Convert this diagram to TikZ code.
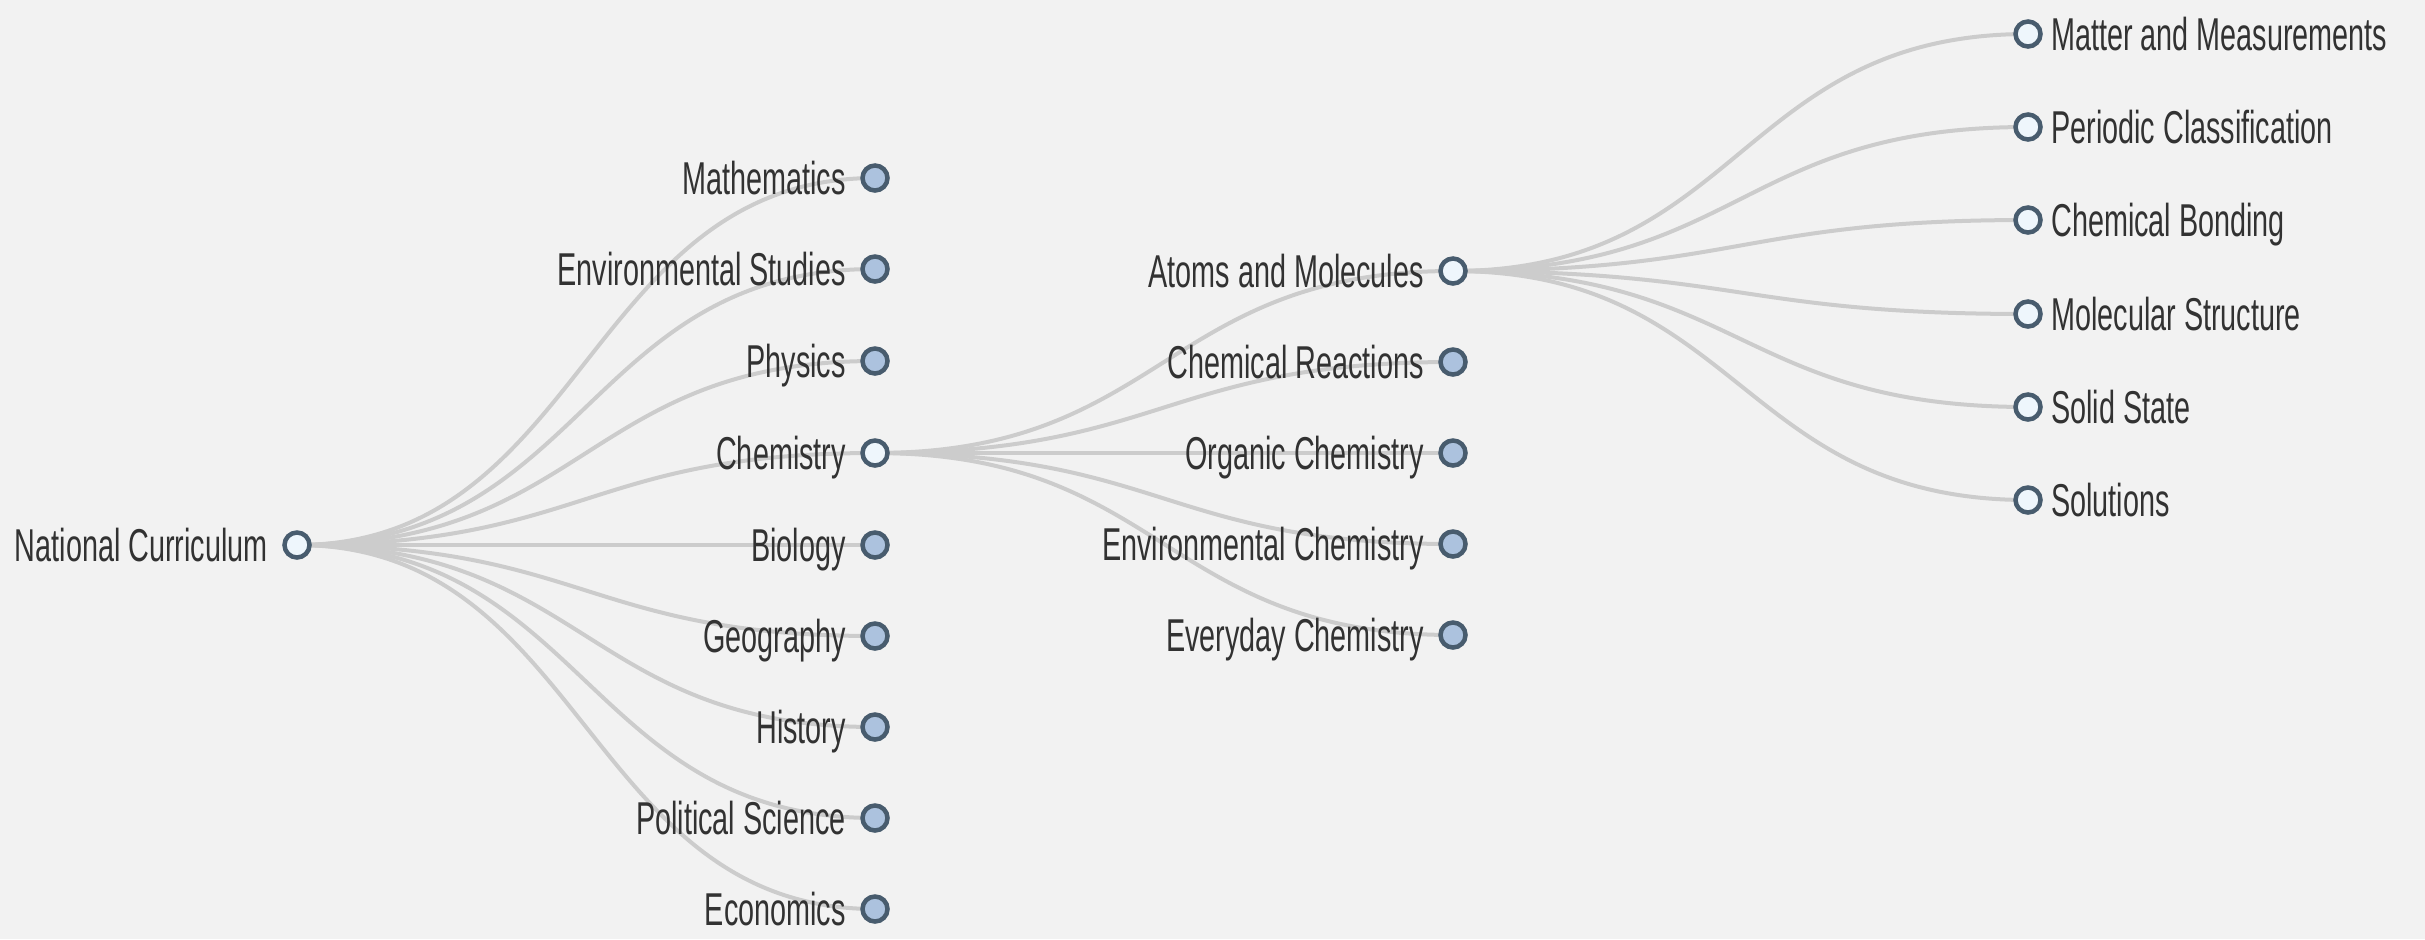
\documentclass[tikz,border=0pt]{standalone}
\usepackage{fontspec}
\newfontfamily\treefont[FakeStretch=0.625]{Liberation Sans}
\usetikzlibrary{backgrounds}
\definecolor{bgcol}{RGB}{242,242,242}
\definecolor{linkcol}{RGB}{204,204,204}
\definecolor{ringcol}{RGB}{72,92,110}
\definecolor{shutcol}{RGB}{172,194,222}
\definecolor{opencol}{RGB}{238,246,252}
\definecolor{txtcol}{RGB}{50,50,50}
\tikzset{
	topic/.style={circle, draw=ringcol, line width=0.045cm, minimum size=0.25cm, inner sep=0pt, outer sep=0pt, fill=shutcol},
	open/.style={topic, fill=opencol},
	lbl/.style={font=\treefont\fontsize{13.1pt}{15pt}\selectfont, text=txtcol, inner sep=0pt, text height=0.33cm, text depth=0pt},
	lleft/.style={label={[lbl,label distance=0.16cm]left:#1}},
	lright/.style={label={[lbl,label distance=0.10cm]right:#1}},
	link/.style={draw=linkcol, line width=0.04cm}
}

\begin{document}
\begin{tikzpicture}[x=0.01cm, y=-0.01cm]
			%%%%% START %%%%%
			\useasboundingbox (0, 0) rectangle (2425, 939);
			
			\node[open, lleft=National Curriculum] (root) at (297, 545) {};
			
			\node[topic, lleft=Mathematics] (math) at (875, 178) {};
			\node[topic, lleft=Environmental Studies] (envst) at (875, 269) {};
			\node[topic, lleft=Physics] (phys) at (875, 361) {};
			\node[open, lleft=Chemistry] (chem) at (875, 453) {};
			\node[topic, lleft=Biology] (bio) at (875, 545) {};
			\node[topic, lleft=Geography] (geog) at (875, 636) {};
			\node[topic, lleft=History] (hist) at (875, 727) {};
			\node[topic, lleft=Political Science] (polsci) at (875, 818) {};
			\node[topic, lleft=Economics] (econ) at (875, 909) {};
			
			\node[open, lleft=Atoms and Molecules] (atoms) at (1453, 271) {};
			\node[topic, lleft=Chemical Reactions] (reac) at (1453, 362) {};
			\node[topic, lleft=Organic Chemistry] (organic) at (1453, 453) {};
			\node[topic, lleft=Environmental Chemistry] (envchem) at (1453, 544) {};
			\node[topic, lleft=Everyday Chemistry] (everyday) at (1453, 635) {};
			
			\node[open, lright=Matter and Measurements] (matter) at (2028, 34) {};
			\node[open, lright=Periodic Classification] (periodic) at (2028, 127) {};
			\node[open, lright=Chemical Bonding] (bonding) at (2028, 220) {};
			\node[open, lright=Molecular Structure] (molstruct) at (2028, 314) {};
			\node[open, lright=Solid State] (solid) at (2028, 407) {};
			\node[open, lright=Solutions] (solutions) at (2028, 500) {};
			
			\begin{scope}[on background layer]
			\fill[bgcol] (0, 0) rectangle (2425, 939);
			
			\draw[link] (root.center) .. controls +(289, 0) and +(-289, 0) .. (math.center);
			\draw[link] (root.center) .. controls +(289, 0) and +(-289, 0) .. (envst.center);
			\draw[link] (root.center) .. controls +(289, 0) and +(-289, 0) .. (phys.center);
			\draw[link] (root.center) .. controls +(289, 0) and +(-289, 0) .. (chem.center);
			\draw[link] (root.center) .. controls +(289, 0) and +(-289, 0) .. (bio.center);
			\draw[link] (root.center) .. controls +(289, 0) and +(-289, 0) .. (geog.center);
			\draw[link] (root.center) .. controls +(289, 0) and +(-289, 0) .. (hist.center);
			\draw[link] (root.center) .. controls +(289, 0) and +(-289, 0) .. (polsci.center);
			\draw[link] (root.center) .. controls +(289, 0) and +(-289, 0) .. (econ.center);
			
			\draw[link] (chem.center) .. controls +(289, 0) and +(-289, 0) .. (atoms.center);
			\draw[link] (chem.center) .. controls +(289, 0) and +(-289, 0) .. (reac.center);
			\draw[link] (chem.center) .. controls +(289, 0) and +(-289, 0) .. (organic.center);
			\draw[link] (chem.center) .. controls +(289, 0) and +(-289, 0) .. (envchem.center);
			\draw[link] (chem.center) .. controls +(289, 0) and +(-289, 0) .. (everyday.center);
			
			\draw[link] (atoms.center) .. controls +(288, 0) and +(-288, 0) .. (matter.center);
			\draw[link] (atoms.center) .. controls +(288, 0) and +(-288, 0) .. (periodic.center);
			\draw[link] (atoms.center) .. controls +(288, 0) and +(-288, 0) .. (bonding.center);
			\draw[link] (atoms.center) .. controls +(288, 0) and +(-288, 0) .. (molstruct.center);
			\draw[link] (atoms.center) .. controls +(288, 0) and +(-288, 0) .. (solid.center);
			\draw[link] (atoms.center) .. controls +(288, 0) and +(-288, 0) .. (solutions.center);
			\end{scope}
			%%%%% END %%%%%
\end{tikzpicture}
\end{document}
